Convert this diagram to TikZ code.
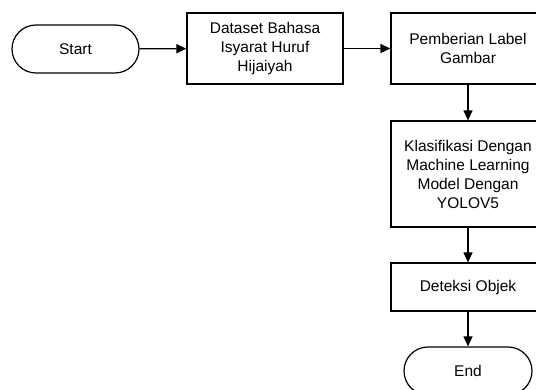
\documentclass[tikz,border=0pt]{standalone}
\usepackage{fontspec}
\setmainfont{Liberation Sans}
\usetikzlibrary{arrows.meta}

\begin{document}
\begin{tikzpicture}[x=1pt,y=-1pt,line width=1.2pt,
  font=\fontsize{15.5}{19}\selectfont,
  proc/.style={draw,rectangle,align=center,minimum width=154pt,inner sep=2pt},
  term/.style={draw,rectangle,rounded corners=24pt,minimum width=127pt,minimum height=48pt},
  flow/.style={-{Triangle[length=10pt,width=9pt]}}]
  \clip (0,0) rectangle (536,390);
  \node[term] (start) at (75.5,49) {Start};
  \node[proc,minimum width=156pt,minimum height=71pt] (dataset) at (265,48.5) {Dataset Bahasa\\Isyarat Huruf\\Hijaiyah};
  \node[proc,minimum height=71pt] (label) at (468,48.5) {Pemberian Label\\Gambar};
  \node[proc,minimum height=106pt] (klas) at (468,174) {Klasifikasi Dengan\\Machine Learning\\Model Dengan\\YOLOV5};
  \node[proc,minimum height=48pt] (deteksi) at (468,287) {Deteksi Objek};
  \node[term,minimum width=128pt] (end) at (468,371) {End};
  \draw[flow] (start) -- (dataset);
  \draw[flow] (dataset) -- (label);
  \draw[flow] (label) -- (klas);
  \draw[flow] (klas) -- (deteksi);
  \draw[flow] (deteksi) -- (end);
\end{tikzpicture}
\end{document}
